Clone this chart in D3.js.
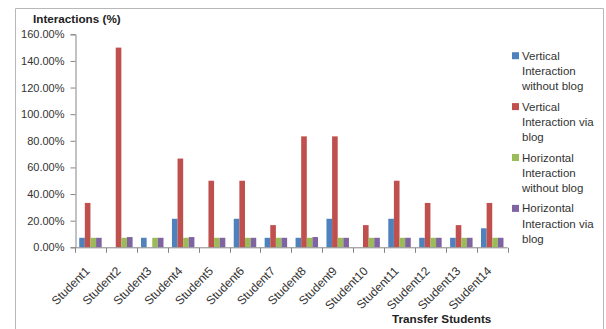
<!DOCTYPE html>
<html><head><meta charset="utf-8">
<script src="https://cdn.jsdelivr.net/npm/d3@7"></script>
<style>body{margin:0;background:#fff;}svg{display:block;font-family:"Liberation Sans",Arial,sans-serif;}</style>
</head><body><svg id="c" width="606" height="329"></svg>
<script>
const students = ["Student1","Student2","Student3","Student4","Student5","Student6","Student7","Student8","Student9","Student10","Student11","Student12","Student13","Student14"];
const seriesNames = ["Vertical Interaction without blog","Vertical Interaction via blog","Horizontal Interaction without blog","Horizontal Interaction via blog"];
const legendLines = [["Vertical","Interaction","without blog"],["Vertical","Interaction via","blog"],["Horizontal","Interaction","without blog"],["Horizontal","Interaction via","blog"]];
const colors = ["#4F81BD","#C0504D","#9BBB59","#8064A2"];
const verticalWithout = [7.14,0,7.14,21.43,0,21.43,7.14,7.14,21.43,0,21.43,7.14,7.14,14.29];
const verticalVia = [33.33,150,0,66.67,50,50,16.67,83.33,83.33,16.67,50,33.33,16.67,33.33];
const horizontalWithout = [7.14,7.14,7.14,7.14,7.14,7.14,7.14,7.14,7.14,7.14,7.14,7.14,7.14,7.14];
const horizontalVia = [7.14,7.69,7.14,7.69,7.14,7.14,7.14,7.69,7.14,7.14,7.14,7.14,7.14,7.14];
const yTicks = [0,20,40,60,80,100,120,140,160];
const seriesValues = [verticalWithout, verticalVia, horizontalWithout, horizontalVia];

const svg = d3.select("#c");
// outer frame
svg.append("path").attr("d","M15.5,340V8.5H603.5V340").attr("fill","none").attr("stroke","#b8b8b8").attr("stroke-width",1);

const x0 = d3.scaleBand().domain(students).range([75,507.7]).padding(0);
const bw = x0.bandwidth()/5.5;
const x1 = d3.scaleBand().domain(d3.range(4)).range([0.75*bw, x0.bandwidth()-0.75*bw]).padding(0);
const y = d3.scaleLinear().domain([0,160]).range([247.3,34.3]);

// bars
students.forEach((s,i)=>{
  seriesValues.forEach((vals,k)=>{
    const v = vals[i];
    if (v<=0) return;
    svg.append("rect").attr("x",x0(s)+x1(k)).attr("y",y(v)).attr("width",x1.bandwidth()).attr("height",y(0)-y(v)).attr("fill",colors[k]);
  });
});

const axisColor = "#868686";
// y axis
const yAxis = svg.append("g").attr("transform","translate(75.5,0)")
  .call(d3.axisLeft(y).tickValues(yTicks).tickSize(5).tickPadding(6).tickFormat(d=>d.toFixed(2)+"%"));
yAxis.select(".domain").attr("stroke",axisColor);
yAxis.selectAll(".tick line").attr("stroke",axisColor);
yAxis.selectAll("text").attr("font-size","11px").attr("fill","#333");

// x axis
const xg = svg.append("g").attr("transform","translate(0,"+(y(0)+0.5)+")");
xg.append("line").attr("x1",75).attr("x2",507.7).attr("stroke",axisColor);
const bounds = students.map(s=>x0(s)).concat([x0.range()[1]]);
xg.selectAll(".bt").data(bounds).join("line").attr("x1",d=>Math.round(d)+0.5).attr("x2",d=>Math.round(d)+0.5).attr("y1",0).attr("y2",5).attr("stroke",axisColor);
xg.selectAll(".xl").data(students).join("text")
  .attr("transform",d=>"translate("+(x0(d)+x0.bandwidth()/2)+",24) rotate(-45)")
  .attr("text-anchor","end").attr("font-size","12px").attr("fill","#333").text(d=>d);

// titles
svg.append("text").attr("x",33).attr("y",18.5).attr("dy","0.35em").attr("font-size","11.7px").attr("font-weight","bold").attr("fill","#222").text("Interactions (%)");
svg.append("text").attr("x",392).attr("y",319).attr("dy","0.35em").attr("font-size","11.7px").attr("font-weight","bold").attr("fill","#222").text("Transfer Students");

// legend
const lg = svg.append("g");
seriesNames.forEach((n,k)=>{
  const cy = 55.7 + k*50.9;
  lg.append("rect").attr("x",512).attr("y",cy-3.5).attr("width",7).attr("height",7).attr("fill",colors[k]);
  legendLines[k].forEach((t,j)=>{
    lg.append("text").attr("x",522).attr("y",cy+j*15.3).attr("dy","0.35em").attr("font-size","11.5px").attr("fill","#333").text(t);
  });
});
</script></body></html>
